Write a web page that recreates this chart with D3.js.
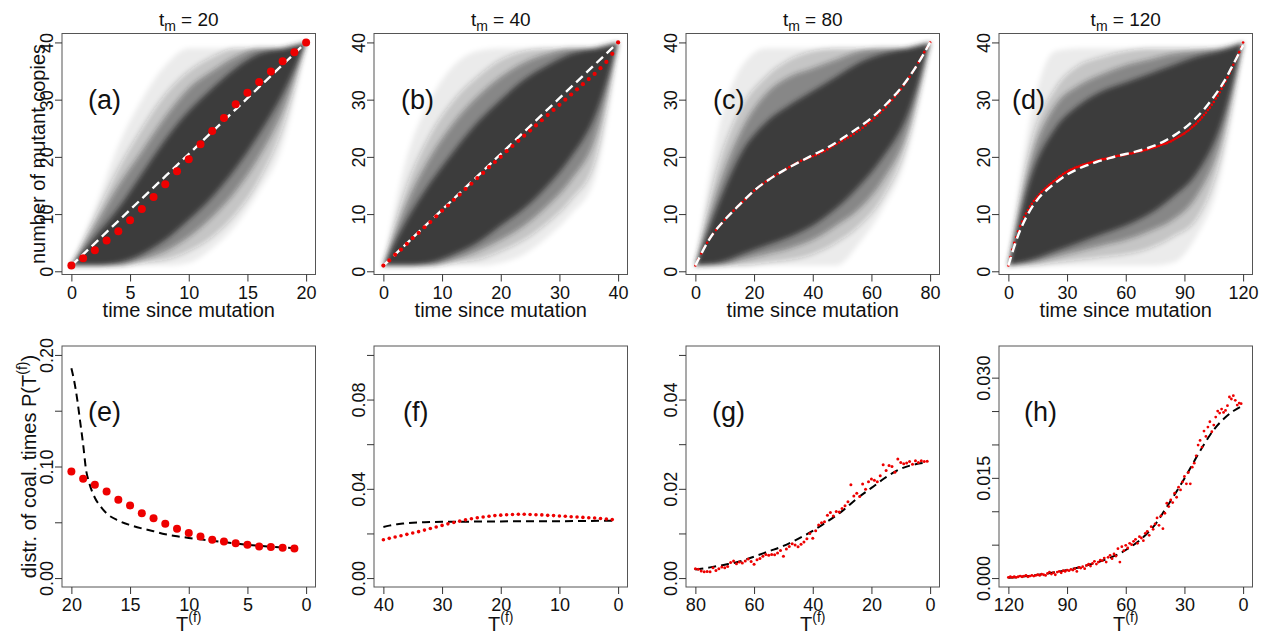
<!DOCTYPE html>
<html><head><meta charset="utf-8">
<script src="https://cdn.jsdelivr.net/npm/d3@7"></script>
<style>
body{margin:0;background:#fff;}
svg{display:block;}
text{font-family:"Liberation Sans", Arial, Helvetica, sans-serif; fill:#111;}
</style>
</head><body>
<svg id="chart" width="1265" height="632"></svg>
<script>
// ---------------- DATA ----------------
const tmValues = [20, 40, 80, 120];
const topLetters = ["(a)", "(b)", "(c)", "(d)"];
const botLetters = ["(e)", "(f)", "(g)", "(h)"];
const topXTicks = [[0,5,10,15,20],[0,10,20,30,40],[0,20,40,60,80],[0,30,60,90,120]];
const topYTicks = [0,10,20,30,40];
const botXTicks = [[20,15,10,5,0],[40,30,20,10,0],[80,60,40,20,0],[120,90,60,30,0]];
const botYLim = [0.2, 0.1, 0.05, 0.0334];
const botYTicks = [
  [0,0.05,0.10,0.15,0.20],
  [0,0.02,0.04,0.06,0.08,0.10],
  [0,0.01,0.02,0.03,0.04,0.05],
  [0,0.005,0.010,0.015,0.020,0.025,0.030]];
const botYLabels = [["0.00","0.10","0.20"],["0.00","0.04","0.08"],["0.00","0.02","0.04"],["0.000","0.015","0.030"]];
const botYLabelVals = [[0,0.10,0.20],[0,0.04,0.08],[0,0.02,0.04],[0,0.015,0.030]];

// simulated mean trajectories (red dots), index = time since mutation
const meanA = [1.0,2.3,3.7,5.4,7.0,8.9,10.9,13.0,15.2,17.5,19.6,22.2,24.5,26.8,29.2,31.2,33.1,34.9,36.7,38.3,40.0];
const meanB = [1.0,1.9,2.9,3.8,4.8,5.8,6.7,7.7,8.6,9.6,10.6,11.5,12.5,13.4,14.4,15.3,16.3,17.2,18.2,19.1,20.0,21.0,21.9,22.8,23.7,24.6,25.5,26.4,27.3,28.2,29.1,30.0,30.9,31.8,32.7,33.6,34.5,35.5,36.6,38.0,40.0];
const meanC = [1.0,2.1,3.1,4.1,5.0,5.8,6.5,7.2,7.8,8.4,9.0,9.6,10.1,10.6,11.1,11.6,12.1,12.6,13.1,13.6,14.1,14.5,14.9,15.3,15.7,16.0,16.4,16.7,17.0,17.3,17.6,17.9,18.2,18.5,18.8,19.0,19.3,19.5,19.7,19.9,20.1,20.3,20.5,20.8,21.0,21.3,21.6,21.9,22.2,22.5,22.8,23.1,23.4,23.7,24.0,24.4,24.7,25.1,25.5,25.9,26.3,26.8,27.2,27.7,28.2,28.7,29.3,29.9,30.5,31.1,31.8,32.5,33.2,34.0,34.8,35.6,36.5,37.4,38.3,39.1,40.0];
const meanD = [1.0,2.5,3.8,5.0,6.0,7.0,7.9,8.7,9.5,10.1,10.7,11.3,11.8,12.3,12.7,13.1,13.5,13.9,14.2,14.5,14.8,15.1,15.4,15.7,15.9,16.2,16.5,16.7,17.0,17.2,17.4,17.6,17.8,17.9,18.1,18.2,18.3,18.5,18.6,18.7,18.8,18.9,19.0,19.1,19.2,19.3,19.4,19.5,19.6,19.6,19.7,19.8,19.9,19.9,20.0,20.1,20.2,20.2,20.3,20.3,20.4,20.5,20.6,20.6,20.7,20.8,20.9,21.0,21.0,21.1,21.2,21.3,21.4,21.5,21.6,21.7,21.8,21.9,22.1,22.2,22.3,22.4,22.6,22.7,22.9,23.1,23.3,23.5,23.7,23.9,24.1,24.4,24.6,24.9,25.2,25.5,25.8,26.2,26.5,26.9,27.3,27.7,28.2,28.6,29.1,29.6,30.2,30.7,31.3,31.9,32.5,33.2,33.9,34.6,35.3,36.1,36.8,37.6,38.3,39.1,40.0];

// theoretical expectation (white dashed)
const theoryAT = [0,5,10,15,20];
const theoryAV = [1,10.75,20.5,30.25,40];
const theoryBT = [0,10,20,30,40];
const theoryBV = [1,10.75,20.5,30.25,40];
const theoryCT = [0,5,10,15,20,25,30,35,40,45,50,55,60,65,70,75,80];
const theoryCV = [1,5.8,9.0,11.6,14.1,16.0,17.6,19.0,20.3,21.6,23.2,24.9,26.8,29.2,32.0,35.6,40];
const theoryDT = [0,5,10,15,20,25,30,35,40,45,50,55,60,65,70,75,80,85,90,95,100,105,110,115,120];
const theoryDV = [1,6.3,10.0,12.6,14.3,15.7,16.9,17.8,18.5,19.1,19.6,20.1,20.5,20.9,21.4,22.0,22.8,23.8,25.0,26.5,28.3,30.5,33.0,36.2,39.5];

// density of the simulated trajectories: nested quantile bands (lo / hi), outer -> inner
const bandFrac = [0,0.1,0.2,0.3,0.4,0.5,0.6,0.7,0.8,0.9,1.0];
const bandLoA = [[1,1,1,1,1,1.5,4,8,14,22,40],[1,1,1,1.5,2,3.5,6,10,16,25,40],[1,1,1,2,3.5,6,9.5,14,20,28,40],[1,1,1.5,3,5.5,9,13,18,24,31,40]];
const bandHiA = [[1,11,22,30,36,39,39,39,39,39,40],[1,9.5,18,25,31,35,37.5,39,39,39,40],[1,8,15,21,27,32,35,37.5,39,39,40],[1,6,11,17,23,28,32,35.5,38,39,40]];
const bandLoB = [[1,1,1,1,1,1.5,3,6,10,16,40],[1,1,1,1.5,2,3.5,5.5,8.5,12.5,19,40],[1,1,1,2,3.5,5.5,8,11.5,16,23,40],[1,1,1.5,3,5,8,11,15,20,27,40]];
const bandHiB = [[1,20,30,36,38.5,39,39,39,39,39,40],[1,15,24,30,34,37,38.5,39,39,39,40],[1,12,20,26,30.5,34,36.5,38,39,39,40],[1,9,15.5,21,26,30,33.5,36,38,39,40]];
const bandLoC = [[1,1,1,1,1,1,1,5,11,20,40],[1,1,1,1.5,2,3,5,8,13,22,40],[1,1,2,3,4,5.5,8,11,16,24,40],[1,1.5,3,4.5,6,8,11,15,20,27,40]];
const bandHiC = [[1,25,36,39,39,39,39,39,39,39,40],[1,19,29,34,37,38.5,39,39,39,39,40],[1,15,25,31,34,35.5,37,38.5,39,39,40],[1,12,21,26,29,31.5,34,36.5,38,39,40]];
const bandLoD = [[1,1,1,1,1,1,1,1.5,6,16,40],[1,1,1.5,2,2.5,3,4,6,9,19,40],[1,1.5,2.5,3.5,4.5,5.5,7,9,13,22,40],[1,2,3.5,5,6.5,8,10,13,17,25,40]];
const bandHiD = [[1,28,38.5,39,39,39,39,39,39,39,40],[1,23,32,36,37.5,38.5,39,39,39,39,40],[1,20,29,32.5,34.5,36,37,38,38.5,39,40],[1,17,25,29,31.5,33,34.5,36,37.5,38.5,40]];

// bottom row: distribution of coalescence times (red = simulation, index k -> T = n - k)
const redE = [0.0955,0.0890,0.0836,0.0776,0.0701,0.0651,0.0582,0.0537,0.0487,0.0442,0.0403,0.0373,0.0343,0.0328,0.0313,0.0299,0.0284,0.0278,0.0272,0.0266];
const lineET = [20,19.75,19.5,19.25,19,18.75,18.5,18,17.5,17,16,15,14,13,12,11,10,9,8,7,6,5,4,3,2,1];
const lineEV = [0.188,0.176,0.160,0.140,0.120,0.097,0.086,0.072,0.064,0.058,0.0515,0.0475,0.0445,0.042,0.0393,0.0375,0.0360,0.0347,0.0335,0.0323,0.0310,0.0299,0.0289,0.0281,0.0274,0.0268];
const redF = [0.0172,0.0178,0.0184,0.0190,0.0196,0.0202,0.0208,0.0215,0.0222,0.0229,0.0236,0.0243,0.0249,0.0255,0.0261,0.0266,0.0270,0.0274,0.0277,0.0280,0.0282,0.0284,0.0285,0.0286,0.0286,0.0285,0.0284,0.0283,0.0281,0.0280,0.0278,0.0277,0.0275,0.0274,0.0272,0.0270,0.0269,0.0267,0.0265,0.0262];
const lineFT = [40,39,38,37,36,35,33,30,25,20,15,10,5,1];
const lineFV = [0.0229,0.0235,0.0240,0.0243,0.0246,0.0248,0.0250,0.0252,0.0253,0.0254,0.0255,0.0255,0.0256,0.0257];
const redG = [0.0021,0.0020,0.0016,0.0014,0.0015,0.0014,0.0023,0.0017,0.0021,0.0025,0.0023,0.0026,0.0035,0.0038,0.0032,0.0036,0.0034,0.0038,0.0043,0.0037,0.0031,0.0041,0.0044,0.0049,0.0053,0.0051,0.0053,0.0052,0.0056,0.0062,0.0049,0.0065,0.0071,0.0077,0.0074,0.0070,0.0076,0.0081,0.0088,0.0100,0.0089,0.0106,0.0119,0.0124,0.0126,0.0141,0.0147,0.0139,0.0149,0.0148,0.0156,0.0162,0.0171,0.0209,0.0184,0.0190,0.0183,0.0211,0.0199,0.0216,0.0222,0.0219,0.0216,0.0229,0.0254,0.0241,0.0252,0.0250,0.0237,0.0267,0.0259,0.0256,0.0258,0.0261,0.0255,0.0263,0.0259,0.0263,0.0261,0.0262];
const lineGT = [80,75,70,65,60,55,50,45,40,35,30,25,20,15,10,5,1];
const lineGV = [0.0019,0.0024,0.0030,0.0037,0.0048,0.0060,0.0072,0.0088,0.0106,0.0127,0.0150,0.0178,0.0202,0.0226,0.0245,0.0255,0.0259];
const redH = [0.0001,0.0002,0.0001,0.0002,0.0001,0.0002,0.0003,0.0002,0.0003,0.0004,0.0002,0.0003,0.0004,0.0003,0.0004,0.0005,0.0004,0.0006,0.0005,0.0004,0.0007,0.0009,0.0006,0.0008,0.0005,0.0009,0.0010,0.0008,0.0011,0.0010,0.0012,0.0011,0.0013,0.0012,0.0014,0.0010,0.0016,0.0015,0.0017,0.0014,0.0019,0.0021,0.0018,0.0022,0.0025,0.0021,0.0024,0.0027,0.0026,0.0030,0.0024,0.0031,0.0034,0.0029,0.0036,0.0033,0.0044,0.0024,0.0047,0.0041,0.0049,0.0045,0.0052,0.0050,0.0055,0.0058,0.0052,0.0062,0.0060,0.0056,0.0067,0.0070,0.0064,0.0077,0.0073,0.0081,0.0090,0.0079,0.0093,0.0074,0.0097,0.0112,0.0107,0.0117,0.0113,0.0127,0.0121,0.0136,0.0132,0.0144,0.0152,0.0141,0.0158,0.0141,0.0166,0.0172,0.0183,0.0199,0.0206,0.0196,0.0220,0.0212,0.0226,0.0234,0.0219,0.0229,0.0241,0.0250,0.0247,0.0253,0.0248,0.0251,0.0258,0.0271,0.0268,0.0273,0.0266,0.0259,0.0262,0.0261];
const lineHT = [120,110,100,90,80,70,60,50,45,40,35,30,25,20,15,10,5,1];
const lineHV = [0.00005,0.0003,0.0007,0.0012,0.0019,0.0028,0.0042,0.0064,0.0080,0.0102,0.0125,0.0149,0.0175,0.0200,0.0222,0.0238,0.0250,0.0257];

// ---------------- DRAWING ----------------
const svg = d3.select("#chart");
const W = 253.5, H = 241;
const lefts = [62, 374, 686, 999];
const topY = 33.5, botY = 346;
const pad = (a, b) => { const d = (b - a) * 0.04; return [a - d, b + d]; };

const means = [meanA, meanB, meanC, meanD];
const thT = [theoryAT, theoryBT, theoryCT, theoryDT];
const thV = [theoryAV, theoryBV, theoryCV, theoryDV];
const bLo = [bandLoA, bandLoB, bandLoC, bandLoD];
const bHi = [bandHiA, bandHiB, bandHiC, bandHiD];
const bandAlpha = [0.08, 0.2, 0.4, 0.8];
const dotR = [4, 2.1, 1.3, 1.3];
const labelOff = [26, 27, 27, 13];

const reds = [redE, redF, redG, redH];
const lnT = [lineET, lineFT, lineGT, lineHT];
const lnV = [lineEV, lineFV, lineGV, lineHV];
const botR = [4, 1.8, 1.5, 1.4];
const botLabelOff = [26, 29, 26, 25];

const defs = svg.append("defs");
defs.append("filter").attr("id", "soft").attr("x", "-5%").attr("y", "-5%").attr("width", "110%").attr("height", "110%")
  .append("feGaussianBlur").attr("stdDeviation", 2.5);

function styleAxis(ax) {
  ax.select(".domain").remove();
  ax.attr("font-size", null);
  ax.selectAll("line").attr("stroke", "#333").attr("stroke-width", 1);
  ax.selectAll("text").style("font-size", "18px").attr("fill", "#111");
}

function box(g) {
  g.append("rect").attr("x", 0).attr("y", 0).attr("width", W).attr("height", H)
    .attr("fill", "none").attr("stroke", "#555").attr("stroke-width", 1);
}

// ----- top row -----
tmValues.forEach((tm, i) => {
  const g = svg.append("g").attr("transform", `translate(${lefts[i]},${topY})`);
  const x = d3.scaleLinear().domain(pad(0, tm)).range([0, W]);
  const y = d3.scaleLinear().domain(pad(1, 40)).range([H, 0]);
  const cid = "clipT" + i;
  defs.append("clipPath").attr("id", cid).append("rect").attr("width", W).attr("height", H);
  const plot = g.append("g").attr("clip-path", `url(#${cid})`);

  const bands = plot.append("g").attr("filter", "url(#soft)");
  const bt = bandFrac.map(f => f * tm);
  for (let L = 0; L < 4; L++) {
    const area = d3.area()
      .x((d, j) => x(bt[j]))
      .y0((d, j) => y(bLo[i][L][j]))
      .y1((d, j) => y(bHi[i][L][j]))
      .curve(d3.curveMonotoneX);
    bands.append("path").attr("d", area(bt)).attr("fill", "#2a2a2a").attr("fill-opacity", bandAlpha[L]);
  }

  const line = d3.line().x((d, j) => x(thT[i][j])).y((d, j) => y(thV[i][j])).curve(d3.curveMonotoneX);
  const drawWhite = () => plot.append("path").attr("d", line(thT[i])).attr("fill", "none")
      .attr("stroke", "#fff").attr("stroke-width", 2.4).attr("stroke-dasharray", "9,5");
  const drawRed = () => plot.selectAll(null).data(means[i]).enter().append("circle")
      .attr("cx", (d, t) => x(t)).attr("cy", d => y(d)).attr("r", dotR[i]).attr("fill", "#ee0000");
  if (i <= 1) { drawWhite(); drawRed(); } else { drawRed(); drawWhite(); }

  box(g);
  const ax = g.append("g").attr("transform", `translate(0,${H})`)
    .call(d3.axisBottom(x).tickValues(topXTicks[i]).tickSize(7).tickSizeOuter(0));
  styleAxis(ax);
  ax.selectAll("text").attr("y", 24).attr("dy", 0);
  const ay = g.append("g").call(d3.axisLeft(y).tickValues(topYTicks).tickSize(7).tickSizeOuter(0));
  styleAxis(ay);
  ay.selectAll("text").attr("x", null).attr("dy", 0).attr("text-anchor", "middle")
    .attr("transform", "translate(-9,0) rotate(-90)");

  // title t_m = ..
  const tt = svg.append("text").attr("x", lefts[i] + W / 2).attr("y", 26)
    .attr("text-anchor", "middle").style("font-size", "19px");
  tt.append("tspan").text("t");
  tt.append("tspan").attr("dy", 5).style("font-size", "14px").text("m");
  tt.append("tspan").attr("dy", -5).text(" = " + tm);

  g.append("text").attr("x", labelOff[i]).attr("y", 109 - topY).style("font-size", "27px").text(topLetters[i]);

  svg.append("text").attr("x", lefts[i] + W / 2).attr("y", 316.5).attr("text-anchor", "middle")
    .style("font-size", "20px").text("time since mutation");
});

svg.append("text").attr("transform", `translate(45,${topY + H / 2}) rotate(-90)`)
  .attr("text-anchor", "middle").style("font-size", "20px").text("number of mutant copies");

// ----- bottom row -----
tmValues.forEach((tm, i) => {
  const g = svg.append("g").attr("transform", `translate(${lefts[i]},${botY})`);
  const x = d3.scaleLinear().domain(pad(0, tm).reverse()).range([0, W]);
  const y = d3.scaleLinear().domain(pad(0, botYLim[i])).range([H, 0]);
  const cid = "clipB" + i;
  defs.append("clipPath").attr("id", cid).append("rect").attr("width", W).attr("height", H);
  const plot = g.append("g").attr("clip-path", `url(#${cid})`);

  const line = d3.line().x((d, j) => x(lnT[i][j])).y((d, j) => y(lnV[i][j])).curve(d3.curveMonotoneX);
  plot.append("path").attr("d", line(lnT[i])).attr("fill", "none")
    .attr("stroke", "#000").attr("stroke-width", 2).attr("stroke-dasharray", "8,5");
  const n = reds[i].length;
  plot.selectAll(null).data(reds[i]).enter().append("circle")
    .attr("cx", (d, k) => x(n - k)).attr("cy", d => y(d)).attr("r", botR[i]).attr("fill", "#ee0000");

  box(g);
  const ax = g.append("g").attr("transform", `translate(0,${H})`)
    .call(d3.axisBottom(x).tickValues(botXTicks[i]).tickSize(7).tickSizeOuter(0));
  styleAxis(ax);
  ax.selectAll("text").attr("y", 23.5).attr("dy", 0);
  const labs = botYLabels[i], lv = botYLabelVals[i];
  const ay = g.append("g").call(d3.axisLeft(y).tickValues(botYTicks[i]).tickSize(7).tickSizeOuter(0)
    .tickFormat(d => { const k = lv.findIndex(v => Math.abs(v - d) < 1e-9); return k >= 0 ? labs[k] : ""; }));
  styleAxis(ay);
  ay.selectAll("text").attr("x", null).attr("dy", 0).attr("text-anchor", "middle")
    .attr("transform", "translate(-9,0) rotate(-90)");

  g.append("text").attr("x", botLabelOff[i]).attr("y", 421 - botY).style("font-size", "27px").text(botLetters[i]);

  const tl = svg.append("text").attr("x", lefts[i] + W / 2).attr("y", 631).attr("text-anchor", "middle")
    .style("font-size", "20px");
  tl.append("tspan").text("T");
  tl.append("tspan").attr("dy", -9).style("font-size", "14px").text("(f)");
});

const yl = svg.append("text").attr("transform", `translate(36,${botY + H / 2}) rotate(-90)`)
  .attr("text-anchor", "middle").style("font-size", "20px");
yl.append("tspan").text("distr. of coal. times P(T");
yl.append("tspan").attr("dy", -9).style("font-size", "14px").text("(f)");
yl.append("tspan").attr("dy", 9).text(")");
</script>
</body></html>
